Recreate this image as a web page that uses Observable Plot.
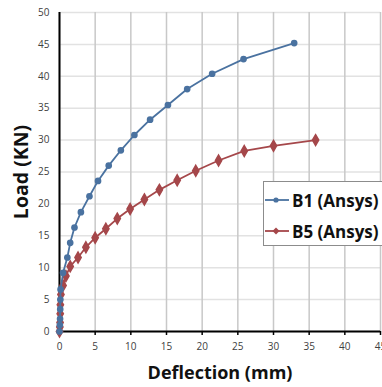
<!DOCTYPE html>
<html>
<head>
<meta charset="utf-8">
<script src="https://cdn.jsdelivr.net/npm/d3@7"></script>
<script src="https://cdn.jsdelivr.net/npm/@observablehq/plot@0.6"></script>
<style>
  html, body { margin: 0; padding: 0; background: #fff; overflow: hidden; }
  #wrap { position: relative; width: 382px; height: 387px; }
  #wrap svg { overflow: visible; }
  .legend { position: absolute; left: 263px; top: 181px; width: 140px; height: 63px;
    border: 1px solid #8c8c8c; background: #fff; font: bold 17px "Open Sans", sans-serif; color: #111; }
  .legend .row { position: absolute; left: 0; height: 20px; display: flex; align-items: center; white-space: nowrap; }
  .legend svg { margin-right: 1px; }
</style>
</head>
<body>
<div id="wrap"></div>
<script>
// Data
const b1Deflection = [0, 0.05, 0.08, 0.1, 0.12, 0.15, 0.5, 1.1, 1.5, 2.1, 3.0, 4.2, 5.4, 6.9, 8.6, 10.5, 12.7, 15.2, 17.9, 21.4, 25.8, 32.9];
const b1Load       = [0, 1.0, 2.0, 3.5, 5.0, 6.6, 9.2, 11.6, 13.9, 16.3, 18.7, 21.2, 23.6, 26.0, 28.4, 30.8, 33.2, 35.5, 38.0, 40.4, 42.7, 45.2];
const b5Deflection = [0, 0.05, 0.08, 0.1, 0.12, 0.2, 0.5, 0.9, 1.5, 2.6, 3.7, 5.0, 6.5, 8.1, 9.9, 11.9, 14.0, 16.5, 19.1, 22.3, 25.9, 30.0, 35.9];
const b5Load       = [0, 0.7, 1.4, 2.8, 4.2, 5.8, 7.2, 8.7, 10.2, 11.6, 13.2, 14.7, 16.1, 17.7, 19.2, 20.7, 22.2, 23.7, 25.2, 26.8, 28.3, 29.1, 30.0];
const seriesNames = ["B1 (Ansys)", "B5 (Ansys)"];
const xTicks = [0, 5, 10, 15, 20, 25, 30, 35, 40, 45];
const yTicks = [0, 5, 10, 15, 20, 25, 30, 35, 40, 45, 50];
const xTitle = "Deflection (mm)";
const yTitle = "Load (KN)";

const blue = "#4a72a0";
const red = "#a5474a";

const b1 = b1Deflection.map((d, i) => ({x: d, y: b1Load[i]}));
const b5 = b5Deflection.map((d, i) => ({x: d, y: b5Load[i]}));

const chart = Plot.plot({
  width: 382,
  height: 387,
  marginLeft: 59,
  marginRight: 2,
  marginTop: 12,
  marginBottom: 56,
  style: {fontFamily: "'Open Sans', sans-serif", fontSize: "10px", color: "#404040", background: "#fff"},
  x: {domain: [0, 45]},
  y: {domain: [0, 50]},
  marks: [
    Plot.gridY(yTicks, {stroke: "#e2e2e2", strokeOpacity: 1, strokeWidth: 1.5}),
    Plot.gridX(xTicks, {stroke: "#c8c8c8", strokeOpacity: 1, strokeWidth: 1.5}),
    Plot.axisX(xTicks, {tickSize: 4, tickPadding: 7, stroke: "#000", strokeWidth: 1.5, label: null, fill: "#404040"}),
    Plot.axisY(yTicks, {tickSize: 0, tickPadding: 10, label: null, fill: "#404040"}),
    Plot.ruleX([0], {stroke: "#000", strokeWidth: 2}),
    Plot.ruleY([0], {stroke: "#000", strokeWidth: 2}),
    Plot.line(b5, {x: "x", y: "y", stroke: red, strokeWidth: 1.8}),
    Plot.dot(b5, {x: "x", y: "y", symbol: "diamond", r: 3.3, fill: red, stroke: red}),
    Plot.line(b1, {x: "x", y: "y", stroke: blue, strokeWidth: 1.8}),
    Plot.dot(b1, {x: "x", y: "y", symbol: "circle", r: 2.6, fill: blue, stroke: blue}),
    Plot.text([xTitle], {frameAnchor: "bottom", textAnchor: "middle", dy: 47, fontSize: 18, fontWeight: "bold", fill: "#111"}),
    Plot.text([yTitle], {frameAnchor: "left", textAnchor: "middle", dx: -37.5, rotate: -90, fontSize: 19.5, fontWeight: "bold", fill: "#111"})
  ]
});
const wrap = document.getElementById("wrap");
wrap.appendChild(chart);

// Legend overlay
const legend = document.createElement("div");
legend.className = "legend";
const colors = [blue, red];
const symbols = ["circle", "diamond"];
seriesNames.forEach((name, i) => {
  const row = document.createElement("div");
  row.className = "row";
  row.style.top = (i === 0 ? 8 : 39) + "px";
  const mk = symbols[i] === "circle"
    ? `<circle cx="12" cy="10" r="2.6" fill="${colors[i]}"/>`
    : `<path d="M12,6.5L15.5,10L12,13.5L8.5,10Z" fill="${colors[i]}"/>`;
  row.innerHTML = `<svg width="27" height="20"><line x1="1" x2="25" y1="10" y2="10" stroke="${colors[i]}" stroke-width="1.8"/>${mk}</svg><span>${name}</span>`;
  legend.appendChild(row);
});
wrap.appendChild(legend);
</script>
</body>
</html>
